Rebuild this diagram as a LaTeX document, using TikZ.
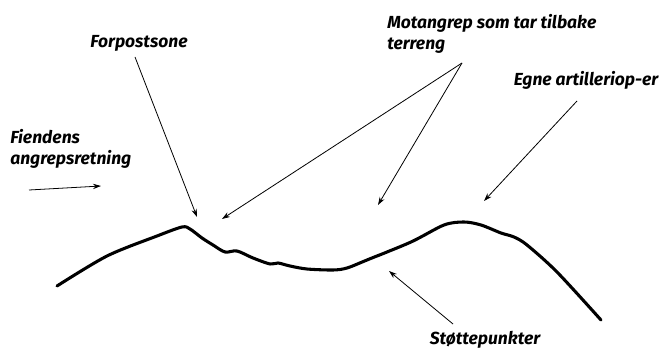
\documentclass[tikz,border=0pt]{standalone}
\usepackage{fontspec}
\setmainfont{Fira Sans}
\usetikzlibrary{arrows.meta}
\begin{document}
\begin{tikzpicture}[x=0.75pt,y=-0.75pt,
  lbl/.style={font=\bfseries\itshape\fontsize{13.1}{15.5}\selectfont, inner sep=0pt, align=left},
  pointer/.style={line width=0.6pt, -{Stealth[length=6pt,width=4pt]}},
  terrain/.style={line width=2.3pt, line cap=round, line join=round}]
\useasboundingbox (0,0) rectangle (668,349);
% labels
\node[lbl] (forpost) at (139,43) {Forpostsone};
\node[lbl, anchor=west] (fiende) at (10,149) {Fiendens\\angrepsretning};
\node[lbl, anchor=west] (motangrep) at (387,34) {Motangrep som tar tilbake\\terreng};
\node[lbl] (egne) at (586,80) {Egne artilleriop-er};
\node[lbl] (stotte) at (485,340) {Støttepunkter};
% connector ends
\coordinate (fp0) at (135,57);
\coordinate (fp1) at (197,217);
\coordinate (fa0) at (29,190);
\coordinate (fa1) at (101,186);
\coordinate (mo0) at (462,63);
\coordinate (mo1) at (222,219);
\coordinate (mo2) at (378,205);
\coordinate (eg0) at (577,101);
\coordinate (eg1) at (484,201);
\coordinate (st0) at (453,324);
\coordinate (st1) at (389,271);
% connectors
\draw[pointer] (fp0) -- (fp1);
\draw[pointer] (fa0) -- (fa1);
\draw[pointer] (mo0) -- (mo1);
\draw[pointer] (mo0) -- (mo2);
\draw[pointer] (eg0) -- (eg1);
\draw[pointer] (st0) -- (st1);
% terrain
\draw[terrain] plot[smooth, tension=0.5] coordinates {
 (57,286) (107,256) (157,236) (182,227) (190,229) (202,238) (213,245)
 (225,252) (237,251) (253,258) (270,264) (278,263) (290,266) (307,269)
 (333,270) (347,268) (367,260) (411,242) (444,225) (464,222) (481,225)
 (501,233) (514,237) (527,245) (557,272) (601,320)};
\end{tikzpicture}
\end{document}
